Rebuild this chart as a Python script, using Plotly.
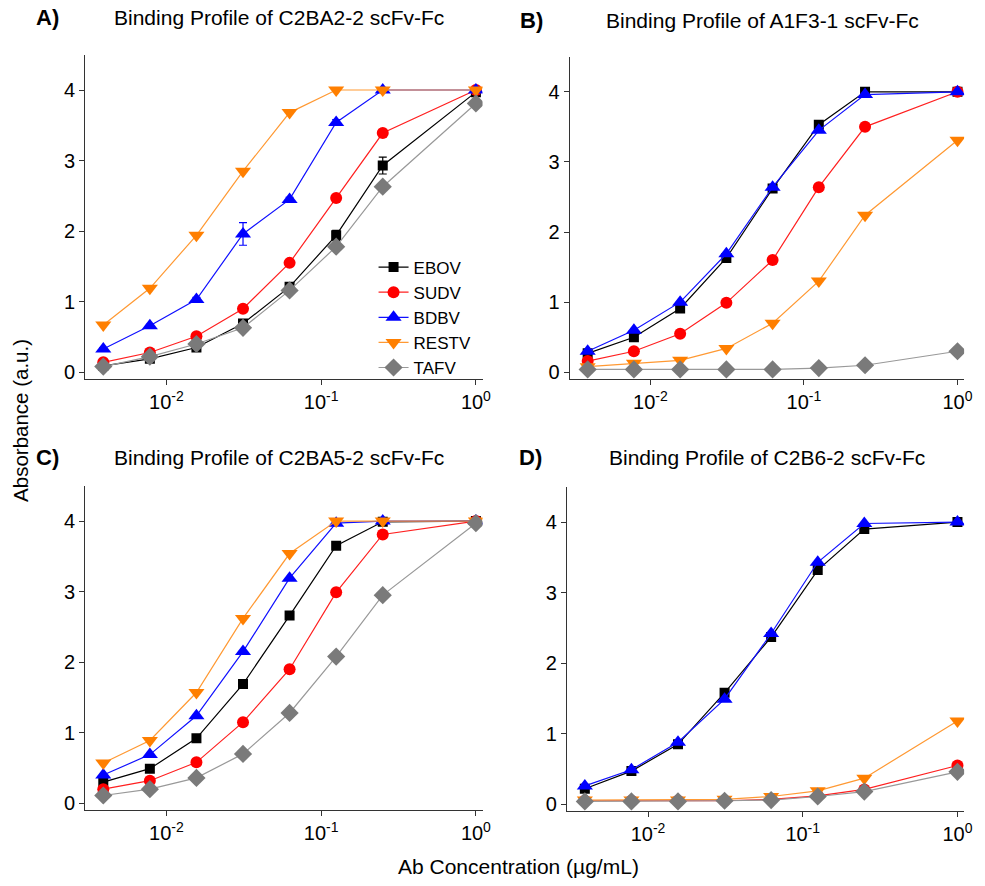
import plotly.graph_objects as go

W, H = 985, 886

conc = [0.00390625, 0.0078125, 0.015625, 0.03125, 0.0625, 0.125, 0.25, 1.0]
series_names = ["EBOV", "SUDV", "BDBV", "RESTV", "TAFV"]

# Panel A: C2BA2-2
EBOV_A = [0.09, 0.19, 0.35, 0.69, 1.21, 1.94, 2.93, 3.97]
SUDV_A = [0.14, 0.28, 0.51, 0.90, 1.55, 2.47, 3.39, 4.00]
BDBV_A = [0.33, 0.66, 1.03, 1.96, 2.45, 3.54, 4.00, 4.00]
RESTV_A = [0.67, 1.19, 1.94, 2.85, 3.68, 4.00, 4.00, 4.00]
TAFV_A = [0.08, 0.22, 0.40, 0.63, 1.16, 1.78, 2.63, 3.81]
EBOV_A_err = [0.02, 0.03, 0.04, 0.05, 0.05, 0.07, 0.12, 0.02]
BDBV_A_err = [0.02, 0.02, 0.03, 0.16, 0.03, 0.04, 0.02, 0.02]

# Panel B: A1F3-1
EBOV_B = [0.27, 0.50, 0.91, 1.63, 2.62, 3.53, 4.00, 4.00]
SUDV_B = [0.16, 0.30, 0.55, 0.99, 1.60, 2.64, 3.50, 4.00]
BDBV_B = [0.30, 0.60, 1.00, 1.69, 2.64, 3.45, 3.96, 4.00]
RESTV_B = [0.08, 0.13, 0.17, 0.34, 0.70, 1.30, 2.24, 3.31]
TAFV_B = [0.04, 0.04, 0.04, 0.04, 0.04, 0.06, 0.10, 0.30]

# Panel C: C2BA5-2
EBOV_C = [0.30, 0.49, 0.92, 1.69, 2.66, 3.65, 3.99, 4.00]
SUDV_C = [0.20, 0.32, 0.58, 1.15, 1.90, 2.99, 3.81, 4.00]
BDBV_C = [0.40, 0.69, 1.24, 2.15, 3.19, 3.97, 4.00, 4.00]
RESTV_C = [0.57, 0.89, 1.57, 2.62, 3.54, 4.00, 4.00, 4.00]
TAFV_C = [0.11, 0.20, 0.36, 0.70, 1.28, 2.08, 2.95, 3.97]

# Panel D: C2B6-2
EBOV_D = [0.22, 0.47, 0.85, 1.58, 2.37, 3.32, 3.90, 4.00]
SUDV_D = [0.05, 0.05, 0.05, 0.05, 0.07, 0.12, 0.21, 0.55]
BDBV_D = [0.26, 0.49, 0.88, 1.49, 2.42, 3.43, 3.98, 4.00]
RESTV_D = [0.06, 0.06, 0.06, 0.07, 0.11, 0.19, 0.37, 1.18]
TAFV_D = [0.04, 0.04, 0.04, 0.05, 0.06, 0.11, 0.18, 0.46]

panel_letters = ["A)", "B)", "C)", "D)"]
panel_titles = [
    "Binding Profile of C2BA2-2 scFv-Fc",
    "Binding Profile of A1F3-1 scFv-Fc",
    "Binding Profile of C2BA5-2 scFv-Fc",
    "Binding Profile of C2B6-2 scFv-Fc",
]
xtick_vals = [0.01, 0.1, 1]
xtick_text = ["10<sup>-2</sup>", "10<sup>-1</sup>", "10<sup>0</sup>"]
ytick_vals = [0, 1, 2, 3, 4]
x_title = "Ab Concentration (µg/mL)"
y_title = "Absorbance (a.u.)"

FONT = "Liberation Sans, Arial, Helvetica, sans-serif"

styles = {
    "EBOV": dict(line="#000000", marker="#000000", symbol="square", size=10),
    "SUDV": dict(line="#FF2020", marker="#FF0000", symbol="circle", size=12),
    "BDBV": dict(line="#1010FF", marker="#0000FF", symbol="triangle-up", size=14),
    "RESTV": dict(line="#FF9933", marker="#FF7F00", symbol="triangle-down", size=14),
    "TAFV": dict(line="#999999", marker="#7A7A7A", symbol="diamond", size=14),
}

panels = [
    dict(data=[EBOV_A, SUDV_A, BDBV_A, RESTV_A, TAFV_A],
         err={"EBOV": EBOV_A_err, "BDBV": BDBV_A_err}),
    dict(data=[EBOV_B, SUDV_B, BDBV_B, RESTV_B, TAFV_B], err={}),
    dict(data=[EBOV_C, SUDV_C, BDBV_C, RESTV_C, TAFV_C], err={}),
    dict(data=[EBOV_D, SUDV_D, BDBV_D, RESTV_D, TAFV_D], err={}),
]

# layout geometry in pixels (left, right, top, bottom)
boxes = [
    (86, 487, 55, 381),
    (575, 973, 57, 381),
    (86, 487, 488, 814),
    (572, 973, 489, 815),
]

fig = go.Figure()

for i, p in enumerate(panels):
    ax = "" if i == 0 else str(i + 1)
    for name, yv in zip(series_names, p["data"]):
        st = styles[name]
        err = p["err"].get(name)
        fig.add_trace(go.Scatter(
            x=conc, y=yv, name=name, mode="lines+markers",
            xaxis="x" + ax, yaxis="y" + ax,
            line=dict(color=st["line"], width=1.2),
            marker=dict(color=st["marker"], symbol=st["symbol"], size=st["size"]),
            error_y=dict(type="data", array=err, color=st["marker"], thickness=1.2, width=4,
                         visible=True) if err else None,
            showlegend=(i == 0),
        ))

layout = dict(
    width=W, height=H,
    margin=dict(l=0, r=0, t=0, b=0),
    paper_bgcolor="white", plot_bgcolor="white",
    font=dict(family=FONT, color="#000000"),
    showlegend=True,
    legend=dict(x=377 / W, y=1 - 319 / H, xanchor="left", yanchor="middle",
                font=dict(size=17, family=FONT), bgcolor="rgba(0,0,0,0)",
                tracegroupgap=0, itemsizing="trace"),
)

annotations = []
for i, (l, r, t, b) in enumerate(boxes):
    ax = "" if i == 0 else str(i + 1)
    layout["xaxis" + ax] = dict(
        type="log", range=[-2.525, 0.043], domain=[l / W, r / W],
        anchor="y" + ax, tickvals=xtick_vals, ticktext=xtick_text,
        ticks="outside", ticklen=5, tickcolor="#333", showline=True,
        linecolor="#333", linewidth=1, showgrid=False, zeroline=False,
        tickfont=dict(size=20, family=FONT), mirror=False,
    )
    layout["yaxis" + ax] = dict(
        range=[-0.1, 4.5], domain=[1 - b / H, 1 - t / H],
        anchor="x" + ax, tickvals=ytick_vals, ticks="outside", ticklen=5,
        tickcolor="#333", showline=True, linecolor="#333", linewidth=1,
        showgrid=False, zeroline=False, tickfont=dict(size=20, family=FONT),
    )

title_pos = [(48, 282, 18), (536, 770, 21), (48, 282, 460), (535, 774, 460)]
for i, (lx, tx, ty) in enumerate(title_pos):
    annotations.append(dict(text="<b>" + panel_letters[i] + "</b>", x=lx / W, y=1 - ty / H,
                            xref="paper", yref="paper", showarrow=False,
                            xanchor="center", yanchor="middle",
                            font=dict(size=22, family=FONT)))
    annotations.append(dict(text=panel_titles[i], x=tx / W, y=1 - ty / H,
                            xref="paper", yref="paper", showarrow=False,
                            xanchor="center", yanchor="middle",
                            font=dict(size=21, family=FONT)))

annotations.append(dict(text=x_title, x=523 / W, y=1 - 870 / H, xref="paper", yref="paper",
                        showarrow=False, xanchor="center", yanchor="middle",
                        font=dict(size=21, family=FONT)))
annotations.append(dict(text=y_title, x=20 / W, y=1 - 422 / H, xref="paper", yref="paper",
                        showarrow=False, xanchor="center", yanchor="middle", textangle=-90,
                        font=dict(size=20.5, family=FONT)))
layout["annotations"] = annotations

fig.update_layout(**layout)
fig.write_html(
    "out.html",
    config={"displayModeBar": False},
    post_script="document.body.style.margin='0';document.body.style.overflow='hidden';",
)
